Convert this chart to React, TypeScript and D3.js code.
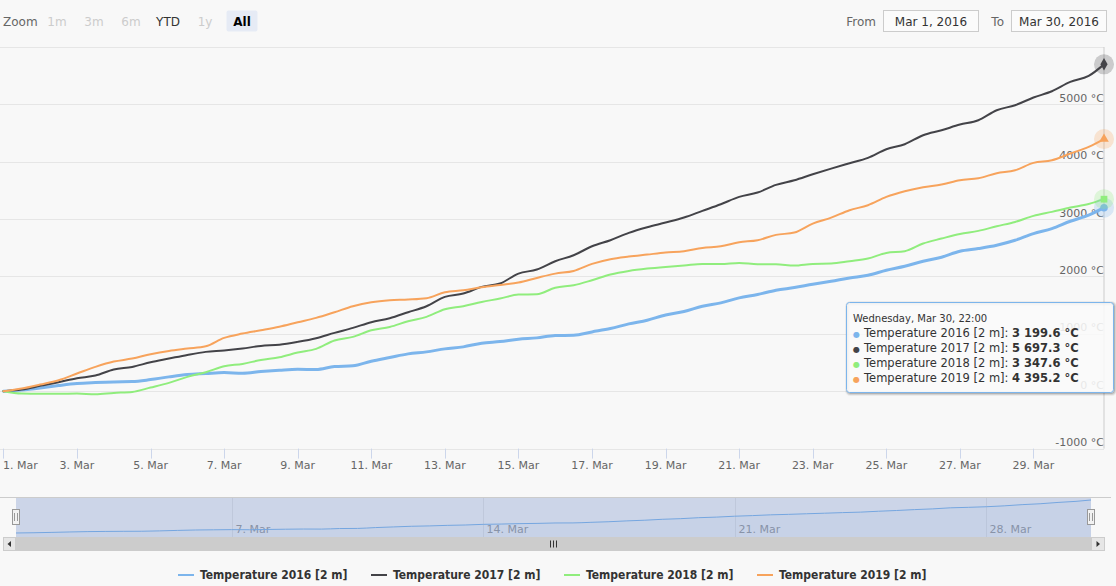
import React from 'react';
import * as d3 from 'd3';

// ---------- data (12-hourly samples from 1 Mar 2016 00:00, last sample 30 Mar 22:00) ----------
const seriesNames = [
  'Temperature 2016 [2 m]',
  'Temperature 2017 [2 m]',
  'Temperature 2018 [2 m]',
  'Temperature 2019 [2 m]',
];
const seriesColors = ['#7cb5ec', '#434348', '#90ed7d', '#f7a35c'];

const temp2016 = [
  0, 23, 58, 99, 134, 151, 163, 168, 203, 250, 290, 308, 325, 314, 343, 366, 383, 378, 430, 442,
  523, 587, 651, 686, 738, 773, 837, 866, 906, 930, 970, 976, 1034, 1092, 1174, 1238, 1330, 1389, 1482, 1540,
  1627, 1685, 1760, 1807, 1865, 1917, 1975, 2022, 2109, 2179, 2266, 2336, 2440, 2487, 2545, 2632, 2748, 2835, 2963, 3068,
  3199.6,
];
const temp2017 = [
  0, 29, 93, 157, 227, 273, 378, 424, 505, 569, 633, 686, 709, 744, 790, 810, 860, 924, 1017, 1104,
  1203, 1272, 1377, 1482, 1644, 1702, 1819, 1877, 2051, 2121, 2266, 2370, 2527, 2632, 2760, 2858, 2940, 3027, 3143, 3259,
  3387, 3463, 3596, 3678, 3782, 3880, 3974, 4067, 4218, 4305, 4462, 4549, 4648, 4724, 4898, 4985, 5119, 5229, 5392, 5496,
  5697.3,
];
const temp2018 = [
  0, -41, -46, -46, -41, -52, -29, -12, 64, 145, 250, 331, 436, 476, 546, 592, 674, 738, 883, 947,
  1063, 1121, 1220, 1296, 1429, 1482, 1557, 1615, 1685, 1691, 1805, 1848, 1935, 2034, 2097, 2138, 2167, 2190, 2219, 2219,
  2237, 2214, 2214, 2190, 2219, 2225, 2266, 2312, 2411, 2440, 2574, 2661, 2742, 2795, 2876, 2951, 3056, 3126, 3201, 3265,
  3347.6,
];
const temp2019 = [
  0, 46, 116, 192, 308, 424, 517, 569, 645, 703, 744, 784, 930, 1005, 1063, 1125, 1203, 1278, 1377, 1482,
  1551, 1586, 1598, 1621, 1726, 1760, 1813, 1853, 1894, 1975, 2050, 2097, 2219, 2301, 2347, 2382, 2417, 2440, 2498, 2527,
  2597, 2632, 2725, 2766, 2922, 3025, 3155, 3242, 3387, 3486, 3556, 3602, 3678, 3713, 3800, 3852, 3980, 4026, 4143, 4259,
  4395.2,
];

const yTicks = [-1000, 0, 1000, 2000, 3000, 4000, 5000, 6000];
const navTickDays = [7, 14, 21, 28];
const rangeButtons = ['1m', '3m', '6m', 'YTD', '1y', 'All'];
const rangeEnabled = [false, false, false, true, false, true];
const fromText = 'Mar 1, 2016';
const toText = 'Mar 30, 2016';
const tooltipHeader = 'Wednesday, Mar 30, 22:00';

const FONT = '"DejaVu Sans", sans-serif';
const FONT_COND = '"DejaVu Sans Condensed", "DejaVu Sans", sans-serif';

export default function App() {
  const W = 1116;
  const H = 586;
  const plotLeft = 3.4;
  const plotRight = 1104;
  const plotTop = 47;
  const plotBottom = 448.6;

  const start = new Date(2016, 2, 1, 0, 0);
  const end = new Date(2016, 2, 30, 22, 0);
  const n = temp2016.length;
  const times = temp2016.map((_, i) => (i < n - 1 ? d3.timeHour.offset(start, i * 12) : end));

  const x = d3.scaleTime().domain([start, end]).range([plotLeft, plotRight]);
  const y = d3.scaleLinear().domain([-1000, 6000]).range([plotBottom, plotTop]);

  const all = [temp2016, temp2017, temp2018, temp2019];

  const line = d3
    .line<number>()
    .x((_, i) => x(times[i]))
    .y((d) => y(d))
    .curve(d3.curveMonotoneX);

  const xTicks = d3.timeDay.every(2)!.range(start, end);
  const fmtTick = d3.timeFormat('%-d. %b');

  // navigator
  const navLeft = 16;
  const navRight = 1091;
  const navTop = 497;
  const navBottom = 537;
  const nx = d3.scaleTime().domain([start, end]).range([navLeft, navRight]);
  const ny = d3.scaleLinear().domain([-390, 3490]).range([navBottom, navTop]);
  const navLine = d3
    .line<number>()
    .x((_, i) => nx(times[i]))
    .y((d) => ny(d))
    .curve(d3.curveMonotoneX);
  const navArea = d3
    .area<number>()
    .x((_, i) => nx(times[i]))
    .y0(navBottom)
    .y1((d) => ny(d))
    .curve(d3.curveMonotoneX);

  const fmtVal = (v: number) => d3.format(',.1f')(v).replace(/,/g, ' ');

  const symbols = [d3.symbolCircle, d3.symbolDiamond, d3.symbolSquare, d3.symbolTriangle];
  const ex = x(end);

  const legendStart = 178;
  const legendStep = 193;
  const legendY = 575;

  // tooltip
  const tipX = 846.5;
  const tipY = 302.5;
  const tipW = 267;
  const tipH = 90;

  return (
    <svg
      width={W}
      height={H}
      style={{ position: 'absolute', left: 0, top: 0, fontFamily: FONT }}
    >
      <rect x={0} y={0} width={W} height={H} fill="#f8f8f8" />

      {/* range selector */}
      <text x={3} y={26} fontSize={12} fill="#666">Zoom</text>
      {rangeButtons.map((b, i) => {
        const cx = 57 + i * 37;
        const sel = b === 'All';
        return (
          <g key={b}>
            {sel && <rect x={cx - 15.5} y={10.5} width={31} height={21} rx={2} fill="#e6ebf5" />}
            <text
              x={cx}
              y={26}
              fontSize={12}
              textAnchor="middle"
              fontWeight={sel ? 'bold' : 'normal'}
              fill={sel ? '#000' : rangeEnabled[i] ? '#333' : '#cccccc'}
            >
              {b}
            </text>
          </g>
        );
      })}
      <text x={876} y={26} fontSize={12} fill="#666" textAnchor="end">From</text>
      <rect x={883.5} y={10.5} width={95} height={21} fill="#fbfbfb" stroke="#cccccc" />
      <text x={931} y={26} fontSize={12} fill="#333" textAnchor="middle">{fromText}</text>
      <text x={1004} y={26} fontSize={12} fill="#666" textAnchor="end">To</text>
      <rect x={1011.5} y={10.5} width={95} height={21} fill="#fbfbfb" stroke="#cccccc" />
      <text x={1059} y={26} fontSize={12} fill="#333" textAnchor="middle">{toText}</text>

      {/* grid */}
      {yTicks.map((t) => (
        <line
          key={t}
          x1={0}
          x2={plotRight}
          y1={Math.round(y(t)) + 0.5}
          y2={Math.round(y(t)) + 0.5}
          stroke="#e6e6e6"
        />
      ))}
      {yTicks
        .filter((t) => t !== 6000)
        .map((t) => (
          <text
            key={'yl' + t}
            x={plotRight}
            y={y(t) - 2.5}
            fontSize={11}
            fill="#666"
            textAnchor="end"
          >
            {`${t} °C`}
          </text>
        ))}

      {/* x axis ticks and labels */}
      {xTicks.map((t, i) => (
        <g key={'xt' + i}>
          <line
            x1={Math.round(x(t)) + 0.5}
            x2={Math.round(x(t)) + 0.5}
            y1={plotBottom}
            y2={plotBottom + 10}
            stroke="#ccd6eb"
          />
          <text
            x={i === 0 ? 3 : x(t)}
            y={469}
            fontSize={11}
            fill="#666"
            textAnchor={i === 0 ? 'start' : 'middle'}
          >
            {fmtTick(t)}
          </text>
        </g>
      ))}

      {/* crosshair */}
      <line x1={ex} x2={ex} y1={plotTop} y2={plotBottom} stroke="#cccccc" />

      {/* series */}
      {all.map((s, i) => (
        <path
          key={'s' + i}
          d={line(s) || ''}
          fill="none"
          stroke={seriesColors[i]}
          strokeWidth={i === 0 ? 3 : 2}
          strokeLinejoin="round"
          strokeLinecap="round"
        />
      ))}

      {/* hover halos and markers */}
      {all.map((s, i) => {
        const cy = y(s[s.length - 1]);
        return (
          <g key={'m' + i}>
            <circle cx={ex} cy={cy} r={10} fill={seriesColors[i]} opacity={0.25} />
            <path
              transform={`translate(${ex},${cy})`}
              d={d3.symbol().type(symbols[i]).size(i === 3 ? 40 : 45)() || ''}
              fill={seriesColors[i]}
            />
          </g>
        );
      })}

      {/* tooltip */}
      <g>
        {[5, 3, 1].map((w, k) => (
          <rect
            key={'sh' + k}
            x={tipX + 1}
            y={tipY + 1}
            width={tipW}
            height={tipH}
            rx={3}
            fill="none"
            stroke="#000"
            strokeOpacity={0.05 * (k + 1)}
            strokeWidth={w}
          />
        ))}
        <rect
          x={tipX}
          y={tipY}
          width={tipW}
          height={tipH}
          rx={3}
          fill="rgba(249,249,249,0.88)"
          stroke="#7cb5ec"
        />
        <text x={853} y={322} fontSize={10} fill="#333">{tooltipHeader}</text>
        {all.map((s, i) => (
          <text key={'tt' + i} x={853} y={337 + i * 15} fontSize={11.5} fill="#333">
            <tspan fill={seriesColors[i]} fontSize={8}>●</tspan>
            <tspan x={864}>{seriesNames[i]}: </tspan>
            <tspan fontWeight="bold">{fmtVal(s[s.length - 1])} °C</tspan>
          </text>
        ))}
      </g>

      {/* navigator */}
      <rect x={navLeft} y={navTop} width={navRight - navLeft} height={navBottom - navTop} fill="#f8f8f8" />
      {navTickDays.map((d) => {
        const t = new Date(2016, 2, d);
        const px = Math.round(nx(t)) + 0.5;
        return (
          <g key={'nt' + d}>
            <line x1={px} x2={px} y1={navTop} y2={navBottom} stroke="#e6e6e6" />
            <text x={px + 3} y={533} fontSize={11} fill="#999">{fmtTick(t)}</text>
          </g>
        );
      })}
      <path d={navArea(temp2016) || ''} fill="#7cb5ec" fillOpacity={0.05} />
      <path d={navLine(temp2016) || ''} fill="none" stroke="#7cb5ec" strokeWidth={1} />
      <rect
        x={navLeft}
        y={navTop}
        width={navRight - navLeft}
        height={navBottom - navTop}
        fill="rgba(102,133,194,0.3)"
      />
      <line x1={0} x2={1111} y1={navTop + 0.5} y2={navTop + 0.5} stroke="#cccccc" />
      {[navLeft, navRight].map((hx, k) => (
        <g key={'h' + k} transform={`translate(${Math.round(hx)},0)`}>
          <rect x={-3.5} y={509.5} width={7} height={15} fill="#f2f2f2" stroke="#999" />
          <line x1={-1.5} x2={-1.5} y1={513} y2={521} stroke="#999" />
          <line x1={1.5} x2={1.5} y1={513} y2={521} stroke="#999" />
        </g>
      ))}

      {/* scrollbar */}
      <rect x={3} y={537} width={1102} height={14} fill="#f2f2f2" />
      <rect x={navLeft} y={537} width={navRight - navLeft} height={14} fill="#cccccc" />
      {[-3, 0, 3].map((o) => (
        <line
          key={'r' + o}
          x1={553.5 + o}
          x2={553.5 + o}
          y1={540.5}
          y2={547.5}
          stroke="#333"
        />
      ))}
      <rect x={3.5} y={537.5} width={12} height={13} fill="#e6e6e6" stroke="#cccccc" />
      <path d="M 11 541 L 11 547 L 7.5 544 Z" fill="#333" />
      <rect x={1091.5} y={537.5} width={13} height={13} fill="#e6e6e6" stroke="#cccccc" />
      <path d="M 1096.5 541 L 1096.5 547 L 1100 544 Z" fill="#333" />

      {/* legend */}
      {seriesNames.map((name, i) => {
        const lx = legendStart + i * legendStep;
        return (
          <g key={'lg' + i}>
            <line x1={lx} x2={lx + 16} y1={legendY} y2={legendY} stroke={seriesColors[i]} strokeWidth={2} />
            <text
              x={lx + 22}
              y={legendY + 4}
              fontSize={12}
              fontWeight="bold"
              fill="#333"
              style={{ fontFamily: FONT_COND, fontStretch: 'condensed' }}
            >
              {name}
            </text>
          </g>
        );
      })}
    </svg>
  );
}
